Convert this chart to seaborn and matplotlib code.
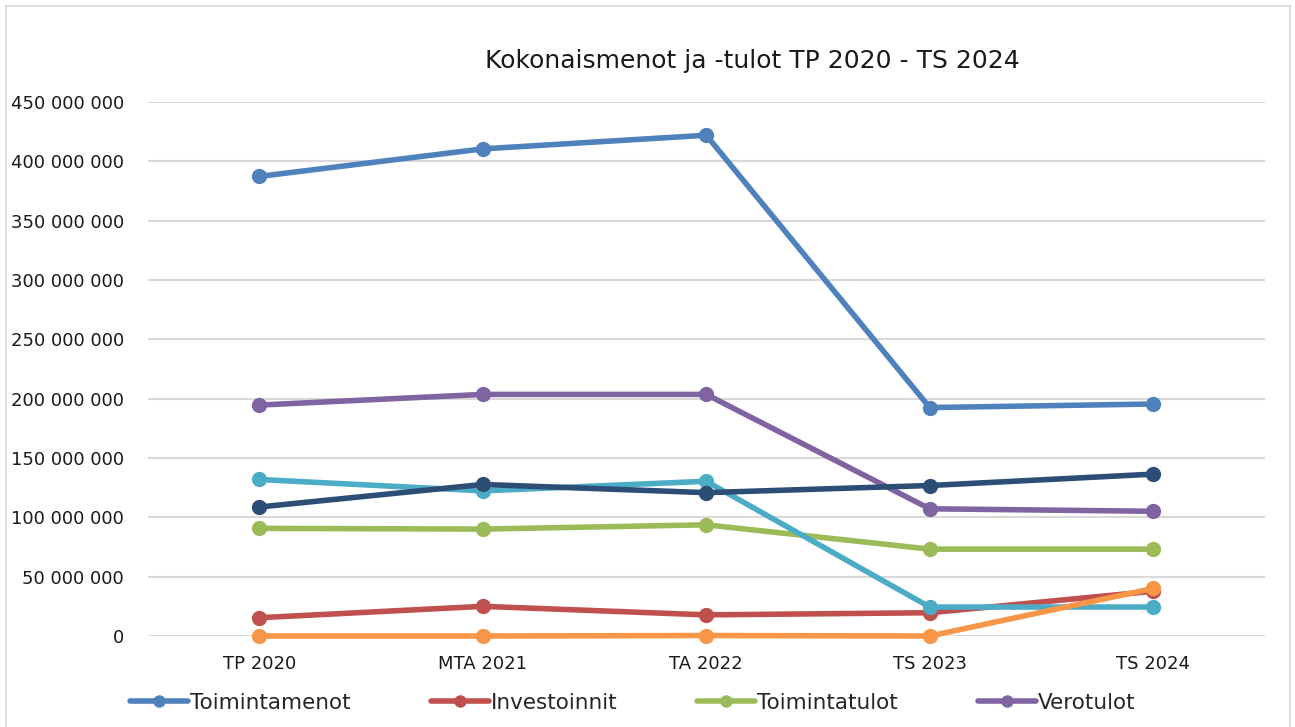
import matplotlib
matplotlib.use("Agg")
import matplotlib.pyplot as plt
import matplotlib.ticker as mticker
from matplotlib.patches import Rectangle
from matplotlib.lines import Line2D
import seaborn as sns
import pandas as pd

categories = ["TP 2020", "MTA 2021", "TA 2022", "TS 2023", "TS 2024"]
toimintamenot = [387.3e6, 410.5e6, 422.0e6, 192.5e6, 195.5e6]
investoinnit = [15.4e6, 25.0e6, 17.8e6, 19.6e6, 37.7e6]
toimintatulot = [90.7e6, 90.1e6, 93.7e6, 73.2e6, 73.2e6]
verotulot = [194.6e6, 203.6e6, 203.6e6, 107.2e6, 105.1e6]
valtionosuudet = [131.9e6, 122.3e6, 130.4e6, 24.4e6, 24.4e6]
lainanotto = [0.0, 0.0, 0.4e6, 0.0, 40.1e6]
muut = [108.7e6, 127.7e6, 120.8e6, 126.8e6, 136.4e6]

series_names = ["Toimintamenot", "Investoinnit", "Toimintatulot", "Verotulot",
                "Valtionosuudet", "Lainanotto", "Muut menot"]
series_values = [toimintamenot, investoinnit, toimintatulot, verotulot,
                 valtionosuudet, lainanotto, muut]
colors = ["#4F81BD", "#C0504D", "#9BBB59", "#8064A2", "#4BACC6", "#F79646", "#2C4D75"]
legend_names = series_names[:4]

rows = []
for name, vals in zip(series_names, series_values):
    for i, (c, v) in enumerate(zip(categories, vals)):
        rows.append({"Vuosi": c, "pos": i, "Sarja": name, "Arvo": v})
df = pd.DataFrame(rows)

sns.set_theme(style="white")
plt.rcParams["font.family"] = ["DejaVu Sans"]

fig = plt.figure(figsize=(12.95, 7.27), dpi=100)
ax = fig.add_axes([147.5 / 1295, 1 - 636 / 727, (1265 - 147.5) / 1295, (636 - 102) / 727])

palette = dict(zip(series_names, colors))
sns.lineplot(data=df, x="pos", y="Arvo", hue="Sarja", palette=palette,
             hue_order=series_names, marker="o", markersize=11,
             markeredgewidth=0, linewidth=4.0, ax=ax, legend=False, sort=False)
for ln in ax.lines:
    ln.set_clip_on(False)

ax.set_xlim(-0.5, len(categories) - 0.5)
ax.set_ylim(0, 450e6)
ax.set_xticks(range(len(categories)))
ax.set_xticklabels(categories)
ax.yaxis.set_major_locator(mticker.MultipleLocator(50e6))
ax.yaxis.set_major_formatter(mticker.FuncFormatter(lambda v, p: f"{int(round(v)):,}".replace(",", " ")))
ax.grid(axis="y", color="#D9D9D9", linewidth=1.5)
ax.grid(axis="x", visible=False)
ax.set_axisbelow(True)
for s in ax.spines.values():
    s.set_visible(False)
ax.tick_params(axis="y", length=0, pad=17, labelsize=13, labelcolor="#1a1a1a")
ax.tick_params(axis="x", length=0, pad=14, labelsize=13, labelcolor="#1a1a1a")
ax.set_xlabel("")
ax.set_ylabel("")

fig.text(752 / 1295, 1 - 61 / 727, "Kokonaismenot ja -tulot TP 2020 - TS 2024",
         ha="center", va="center", fontsize=18, color="#1a1a1a")

handles = [Line2D([0], [0], color=c, linewidth=4.0, marker="o", markersize=9, markeredgewidth=0)
           for c in colors[:4]]
fig.legend(handles, legend_names, loc="center left", bbox_to_anchor=(130 / 1295, 1 - 703 / 727),
           ncol=4, frameon=False, fontsize=15.5, handlelength=2.7, columnspacing=3.7,
           handletextpad=0.1, borderpad=0, borderaxespad=0)

fig.add_artist(Rectangle((6 / 1295, -0.01), (1290 - 6) / 1295, 1 - 6 / 727 + 0.01,
                         transform=fig.transFigure, fill=False, edgecolor="#D9D9D9", linewidth=1.2))

fig.savefig("out.png", dpi=100)
